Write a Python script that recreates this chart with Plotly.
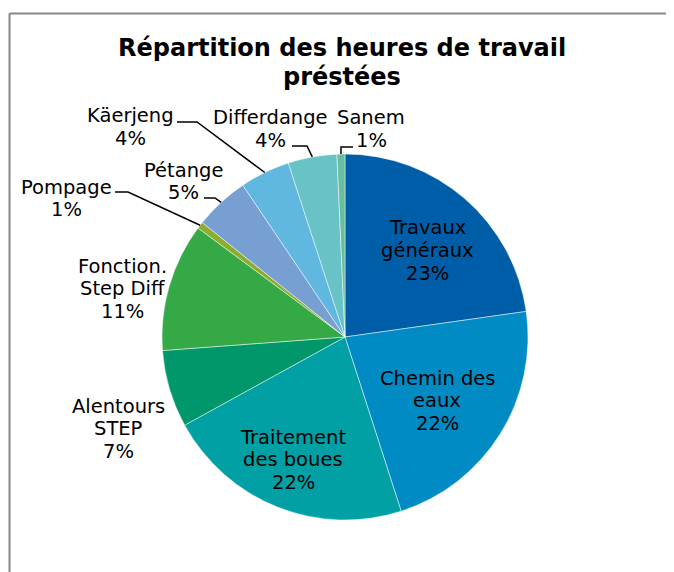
import math
import plotly.graph_objects as go

# ---- data ----
labels = ["Travaux généraux", "Chemin des eaux", "Traitement des boues", "Alentours STEP",
          "Fonction. Step Diff", "Pompage", "Pétange", "Käerjeng", "Differdange", "Sanem"]
label_lines = [["Travaux", "généraux"], ["Chemin des", "eaux"], ["Traitement", "des boues"],
               ["Alentours", "STEP"], ["Fonction.", "Step Diff"], ["Pompage"], ["Pétange"],
               ["Käerjeng"], ["Differdange"], ["Sanem"]]
values = [22.7, 22.2, 21.9, 6.8, 11.3, 0.6, 4.8, 4.4, 4.3, 0.7]
colors = ["#005EA8", "#008BC4", "#00A0A5", "#00976B", "#35A946",
          "#8BAE2E", "#789FD2", "#60B8E0", "#67C3C6", "#68BF9F"]
title_lines = ["Répartition des heures de travail", "préstées"]

# ---- layout geometry (page pixels; the page body adds an 8px offset) ----
W, H = 674, 572
OFF = 8
CX, CY, R = 345, 337, 183
FONT = "DejaVu Sans"
LINE = 22.8

def px(x, y):
    return (x - OFF) / W, 1 - (y - OFF) / H

# centre of the first text line of each label (page px)
label_pos = {
    0: (427, 228), 1: (437, 378), 2: (293, 437), 3: (118, 406), 4: (122, 266),
    5: (66, 187), 6: (183, 170), 7: (130, 116), 8: (270, 118), 9: (371, 118),
}
leaders = {  # elbow, end
    5: ((128, 192), (115, 192)),
    6: ((215, 198), (204, 198)),
    7: ((197, 122), (177, 122)),
    8: ((307, 146), (292, 146)),
    9: ((341, 147), (353, 147)),
}

total = sum(values)
pcts = [round(v / total * 100) for v in values]

cx0, cy0 = CX - OFF, CY - OFF
fig = go.Figure(go.Pie(
    labels=labels, values=values, sort=False, direction="clockwise", rotation=0,
    marker=dict(colors=colors, line=dict(color="rgba(255,255,255,0.6)", width=0.8)),
    textinfo="none", hoverinfo="label+percent", showlegend=False,
    domain=dict(x=[(cx0 - R) / W, (cx0 + R) / W], y=[(H - cy0 - R) / H, (H - cy0 + R) / H]),
))

annotations = []
for i, (lines, p) in enumerate(zip(label_lines, pcts)):
    lx, ly = label_pos[i]
    for k, t in enumerate(lines + [f"{p}%"]):
        x, y = px(lx, ly + k * LINE)
        annotations.append(dict(x=x, y=y, xref="paper", yref="paper", showarrow=False,
                                xanchor="center", yanchor="middle", text=t,
                                font=dict(family=FONT, size=19.5, color="#000000")))

shapes = []
cum = 0
mids = []
for v in values:
    mids.append((cum + v / 2) / total * 2 * math.pi)
    cum += v
for i, (elbow, end) in leaders.items():
    a = mids[i]
    sx, sy = CX + R * math.sin(a), CY - R * math.cos(a)
    pts = [px(sx, sy), px(*elbow), px(*end)]
    path = "M {} {} L {} {} L {} {}".format(pts[0][0], pts[0][1], pts[1][0], pts[1][1], pts[2][0], pts[2][1])
    shapes.append(dict(type="path", xref="paper", yref="paper", path=path,
                       line=dict(color="#000000", width=1.5)))

# chart frame
fx0, fy0 = px(9.5, 13.5)
shapes.append(dict(type="line", xref="paper", yref="paper", x0=fx0, x1=1, y0=fy0, y1=fy0,
                   line=dict(color="#888888", width=2)))
shapes.append(dict(type="line", xref="paper", yref="paper", x0=fx0, x1=fx0, y0=fy0, y1=0,
                   line=dict(color="#888888", width=2)))

for k, t in enumerate(title_lines):
    tx, ty = px(342, 48 + k * 29)
    annotations.append(dict(x=tx, y=ty, xref="paper", yref="paper", showarrow=False,
                            xanchor="center", yanchor="middle", text=f"<b>{t}</b>",
                            font=dict(family=FONT, size=24, color="#000000")))

fig.update_layout(width=W, height=H, margin=dict(l=0, r=0, t=0, b=0),
                  paper_bgcolor="white", plot_bgcolor="white",
                  annotations=annotations, shapes=shapes)
fig.write_html("out.html")
